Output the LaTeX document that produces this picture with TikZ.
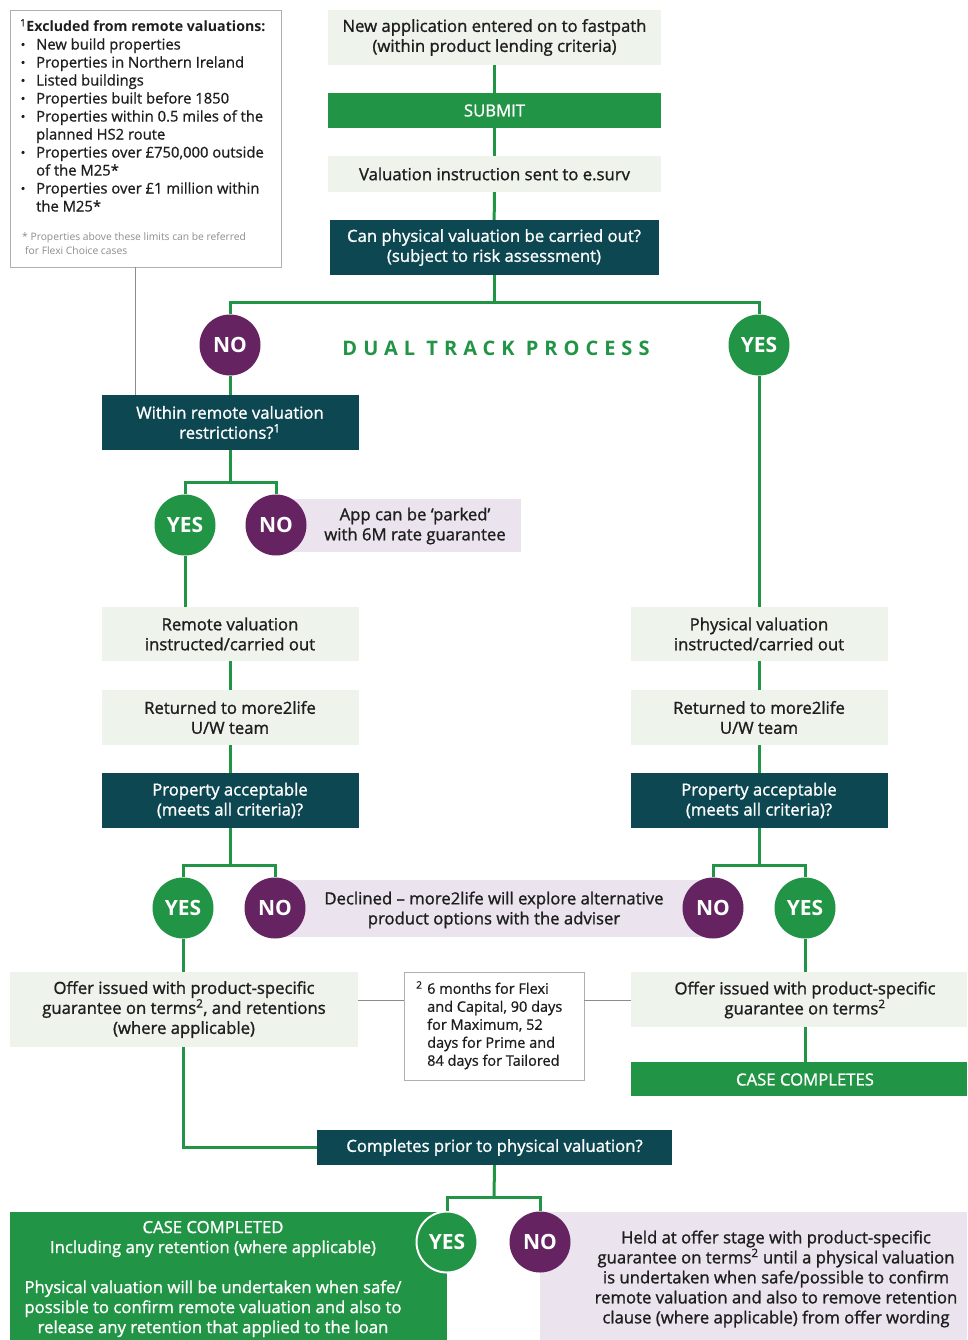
\documentclass[tikz,border=0pt]{standalone}
\usepackage{fontspec}
\setmainfont{Open Sans}
\definecolor{grn}{RGB}{33,148,69}
\definecolor{dteal}{RGB}{13,72,82}
\definecolor{purp}{RGB}{102,35,98}
\definecolor{lgrey}{RGB}{238,243,236}
\definecolor{lav}{RGB}{235,228,238}
\definecolor{txtc}{RGB}{30,30,30}
\definecolor{gline}{RGB}{140,140,140}
\newcommand{\mainfs}{\fontsize{16.7}{20}\selectfont\addfontfeature{FakeBold=1.2}}
\newcommand{\bul}{\makebox[16pt][l]{\hspace{0.5pt}\raisebox{0.5pt}{\fontsize{12.5}{10}\selectfont •}}}
\tikzset{
  box/.style={rectangle, inner sep=0pt, align=center, font=\mainfs},
  lightbox/.style={box, fill=lgrey, text=txtc},
  darkbox/.style={box, fill=dteal, text=white},
  greenbox/.style={box, fill=grn, text=white},
  lavbox/.style={rectangle, fill=lav, inner sep=0pt},
  txt/.style={align=center, inner sep=0pt, font=\mainfs, text=txtc},
  yesc/.style={circle, fill=grn, text=white, minimum size=61pt, inner sep=0pt, font=\fontsize{21}{21}\selectfont\bfseries},
  noc/.style={yesc, fill=purp},
  gl/.style={draw=grn, line width=3pt},
  thinl/.style={draw=gline, line width=0.8pt},
  note/.style={rectangle, draw=gline!70, line width=0.8pt, fill=white, inner sep=0pt},
}
\begin{document}
\begin{tikzpicture}[x=1pt,y=-1pt]
\useasboundingbox[fill=white] (0,0) rectangle (967,1340);
% footnote box 1
\node[note, minimum width=271pt, minimum height=257pt] (fn1) at (145.5,138.5) {};
\node[anchor=north west, align=left, inner sep=0pt, text=txtc, font=\fontsize{14.8}{18}\selectfont\addfontfeature{FakeBold=0.8}] (fn1t) at (20,19) {%
{\fontsize{14.2}{18}\selectfont\textsuperscript{1}\addfontfeature{FakeBold=0}\bfseries Excluded from remote valuations:}\\
\bul New build properties\\
\bul Properties in Northern Ireland\\
\bul Listed buildings\\
\bul Properties built before 1850\\
\bul Properties within 0.5 miles of the\\
\hspace*{16pt}planned HS2 route\\
\bul Properties over £750,000 outside\\
\hspace*{16pt}of the M25*\\
\bul Properties over £1 million within\\
\hspace*{16pt}the M25*};
\node[anchor=north west, align=left, inner sep=0pt, text=gline, font=\fontsize{10.3}{14}\selectfont] (fn1s) at (22,232) {* Properties above these limits can be referred\\ \hspace*{3pt}for Flexi Choice cases};
% top column
\node[lightbox, minimum width=333pt, minimum height=55pt] (new) at (494.5,37.5) {New application entered on to fastpath\\(within product lending criteria)};
\node[greenbox, minimum width=333pt, minimum height=35pt] (submit) at (494.5,110.5) {SUBMIT};
\node[lightbox, minimum width=333pt, minimum height=36pt] (val) at (494.5,174) {Valuation instruction sent to e.surv};
\node[darkbox, minimum width=329pt, minimum height=55pt] (can) at (494,247.5) {Can physical valuation be carried out?\\(subject to risk assessment)};
\node[noc] (noA) at (230,345) {NO};
\node[yesc] (yesA) at (759,345) {YES};
\node[text=grn, inner sep=0pt, font=\fontsize{20}{20}\selectfont\bfseries\addfontfeature{LetterSpace=30}] (dual) at (496,348) {DUAL TRACK PROCESS};
% left column
\node[darkbox, minimum width=257pt, minimum height=55pt] (within) at (230,422.5) {Within remote valuation\\restrictions?\textsuperscript{1}};
\node[lavbox, minimum width=245pt, minimum height=53pt] (park) at (398.5,525.5) {};
\node[txt] (parkt) at (415,526) {App can be ‘parked’\\with 6M rate guarantee};
\node[yesc] (yesB) at (185,525) {YES};
\node[noc] (noB) at (276,525) {NO};
\node[lightbox, minimum width=257pt, minimum height=54pt] (remote) at (230,634) {Remote valuation\\instructed/carried out};
\node[lightbox, minimum width=257pt, minimum height=55pt] (retL) at (230,717.5) {Returned to more2life\\U/W team};
\node[darkbox, minimum width=257pt, minimum height=55pt] (propL) at (230,800.5) {Property acceptable\\(meets all criteria)?};
% right column
\node[lightbox, minimum width=257pt, minimum height=54pt] (phys) at (759,634) {Physical valuation\\instructed/carried out};
\node[lightbox, minimum width=257pt, minimum height=55pt] (retR) at (759,717.5) {Returned to more2life\\U/W team};
\node[darkbox, minimum width=257pt, minimum height=55pt] (propR) at (759,800.5) {Property acceptable\\(meets all criteria)?};
% declined row
\node[lavbox, minimum width=438pt, minimum height=57pt] (decl) at (494,908.5) {};
\node[txt] (declt) at (494,910) {Declined -- more2life will explore alternative\\product options with the adviser};
\node[yesc] (yesC) at (183,908) {YES};
\node[noc] (noC) at (275,908) {NO};
\node[noc] (noD) at (713,908) {NO};
\node[yesc] (yesD) at (805,908) {YES};
% offers
\node[lightbox, minimum width=348pt, minimum height=75pt] (offerL) at (184,1009.5) {Offer issued with product-specific\\guarantee on terms\textsuperscript{2}, and retentions\\(where applicable)};
\node[note, minimum width=180pt, minimum height=108pt] (fn2) at (494,1026) {};
\node[anchor=north west, align=left, inner sep=0pt, text=txtc, font=\fontsize{14.5}{18}\selectfont\addfontfeature{FakeBold=0.8}] (fn2t) at (416,981) {%
\makebox[11pt][l]{\textsuperscript{2}}6 months for Flexi\\
\hspace*{11pt}and Capital, 90 days\\
\hspace*{11pt}for Maximum, 52\\
\hspace*{11pt}days for Prime and\\
\hspace*{11pt}84 days for Tailored};
\node[lightbox, minimum width=336pt, minimum height=55pt] (offerR) at (799,999.5) {};
\node[txt] (offerRt) at (805,1000) {Offer issued with product-specific\\guarantee on terms\textsuperscript{2}};
\node[greenbox, minimum width=336pt, minimum height=34pt] (cc) at (799,1079) {};
\node[txt, text=white] (cct) at (805,1079.5) {CASE COMPLETES};
% bottom
\node[darkbox, minimum width=355pt, minimum height=35pt] (cp) at (494.5,1147.5) {Completes prior to physical valuation?};
\node[greenbox, minimum width=437pt, minimum height=128pt] (done) at (228.5,1276) {};
\node[txt, text=white] (donet) at (213,1279) {CASE COMPLETED\\Including any retention (where applicable)\\[20pt]Physical valuation will be undertaken when safe/\\possible to confirm remote valuation and also to\\release any retention that applied to the loan};
\node[lavbox, minimum width=427pt, minimum height=128pt] (held) at (753.5,1276) {};
\node[txt] (heldt) at (776,1279) {Held at offer stage with product-specific\\guarantee on terms\textsuperscript{2} until a physical valuation\\is undertaken when safe/possible to confirm\\remote valuation and also to remove retention\\clause (where applicable) from offer wording};
\node[yesc, draw=white, line width=2pt] (yesE) at (447,1242) {YES};
\node[noc] (noE) at (540,1242) {NO};
% connectors
\coordinate (j1) at (494,302);
\coordinate (j2) at (230,482);
\coordinate (j3) at (230,865);
\coordinate (j4) at (759,865);
\coordinate (j5) at (494,1197);
\coordinate (c1) at (135,267);
\coordinate (f2y) at (0,1000);
\draw[gl] (new) -- (submit);
\draw[gl] (submit) -- (val);
\draw[gl] (val) -- (can);
\draw[gl] (can.south) -- (j1);
\draw[gl] (noA.north) |- (j1) -| (yesA.north);
\draw[gl] (noA) -- (within);
\draw[gl] (yesA) -- (phys);
\draw[gl] (within.south) -- (j2);
\draw[gl] (yesB.north) |- (j2) -| (noB.north);
\draw[gl] (yesB.south) -- (yesB.south |- remote.north);
\draw[gl] (remote) -- (retL);
\draw[gl] (retL) -- (propL);
\draw[gl] (phys) -- (retR);
\draw[gl] (retR) -- (propR);
\draw[gl] (propL.south) -- (j3);
\draw[gl] (yesC.north) |- (j3) -| (noC.north);
\draw[gl] (propR.south) -- (j4);
\draw[gl] (noD.north) |- (j4) -| (yesD.north);
\draw[gl] (yesC.south) -- (yesC.south |- offerL.north);
\draw[gl] (yesD.south) -- (yesD.south |- offerR.north);
\draw[gl] (yesD |- offerR.south) -- (yesD |- cc.north);
\draw[gl] (yesC |- offerL.south) |- (cp.west);
\draw[gl] (cp.south) -- (j5);
\draw[gl] (yesE.north) |- (j5) -| (noE.north);
\draw[thinl] (c1) -- (c1 |- within.north);
\draw[thinl] (offerL.east |- f2y) -- (fn2.west |- f2y);
\draw[thinl] (fn2.east |- f2y) -- (offerR.west |- f2y);
\end{tikzpicture}
\end{document}
